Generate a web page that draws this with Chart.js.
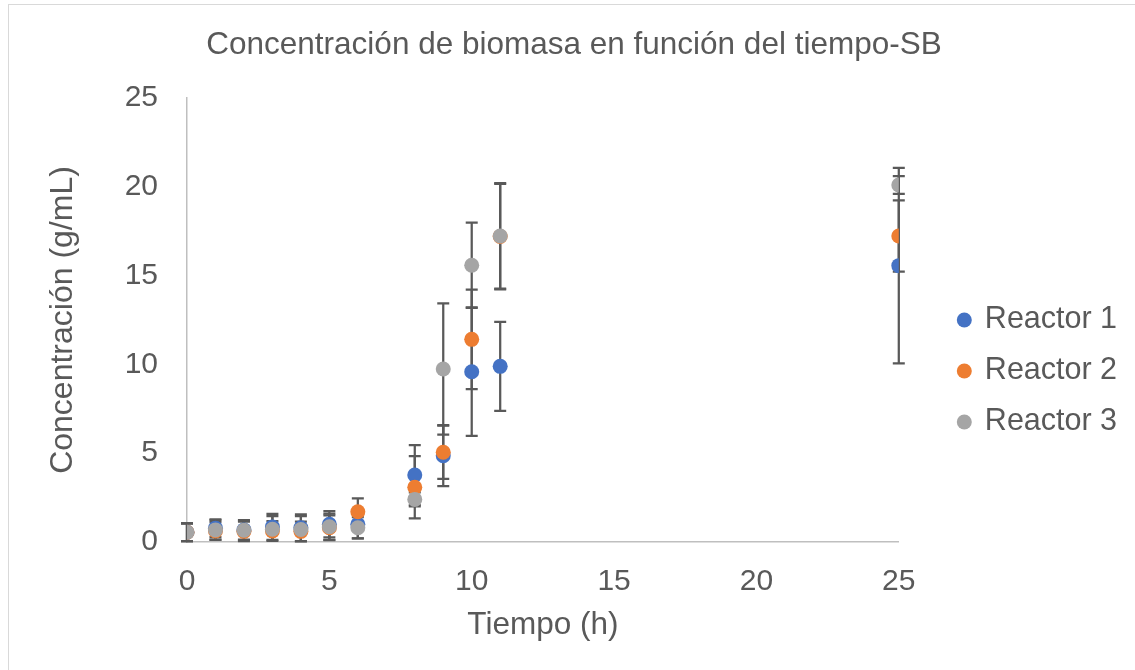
<!DOCTYPE html>
<html lang="es">
<head>
<meta charset="utf-8">
<title>Concentración de biomasa en función del tiempo-SB</title>
<script src="https://cdn.jsdelivr.net/npm/chart.js@4.4.1/dist/chart.umd.min.js"></script>
<style>
  html, body { margin: 0; padding: 0; background: #ffffff; overflow: hidden; }
  #frame { position: absolute; left: 8px; top: 4px; width: 1200px; height: 800px; border: 1px solid #D9D9D9; box-sizing: border-box; }
  #chart { position: absolute; left: 0; top: 0; }
</style>
</head>
<body>
<div id="frame"></div>
<canvas id="chart" width="1135" height="670"></canvas>
<script>
// Sampling times (h)
const tiempos = [0, 1, 2, 3, 4, 5, 6, 8, 9, 10, 11, 25];

// Biomass concentration (g/mL) and standard deviation per reactor
const reactor1 = [0.55, 0.78, 0.68, 0.85, 0.80, 1.00, 1.00, 3.77, 4.86, 9.59, 9.89, 15.56];
const errR1    = [0.50, 0.50, 0.55, 0.73, 0.76, 0.74, 0.80, 1.69, 1.72, 3.62, 2.51, 5.50];

const reactor2 = [0.55, 0.62, 0.60, 0.62, 0.60, 0.80, 1.70, 3.08, 5.05, 11.41, 17.20, 17.23];
const errR2    = [0.50, 0.50, 0.55, 0.55, 0.55, 0.70, 0.76, 1.75, 1.50, 2.80, 2.97, 2.00];

const reactor3 = [0.55, 0.68, 0.66, 0.72, 0.70, 0.86, 0.80, 2.40, 9.74, 15.58, 17.23, 20.10];
const errR3    = [0.50, 0.55, 0.55, 0.74, 0.75, 0.74, 0.60, 0.40, 3.70, 2.40, 2.97, 0.50];

// Axis ticks
const ticksX = [0, 5, 10, 15, 20, 25];
const ticksY = [0, 5, 10, 15, 20, 25];

const seriesNames = ['Reactor 1', 'Reactor 2', 'Reactor 3'];
const seriesColors = ['#4472C4', '#ED7D31', '#A5A5A5'];

const FONT = "'Liberation Sans', Arial, sans-serif";
const TEXT = '#595959';

function toPoints(xs, ys, errs) {
  return xs.map((x, i) => ({ x: x, y: ys[i], err: errs[i] }));
}

// Vertical error bars with caps, drawn beneath the markers
const errorBars = {
  id: 'errorBars',
  beforeDatasetsDraw(chart) {
    const ctx = chart.ctx;
    const xs = chart.scales.x, ys = chart.scales.y;
    const cap = 6;
    ctx.save();
    ctx.strokeStyle = '#595959';
    ctx.lineWidth = 2.25;
    chart.data.datasets.forEach((ds) => {
      ds.data.forEach((p) => {
        if (p.err == null) return;
        const px = xs.getPixelForValue(p.x);
        const top = ys.getPixelForValue(p.y + p.err);
        const bot = ys.getPixelForValue(Math.max(p.y - p.err, ys.min));
        ctx.beginPath();
        ctx.moveTo(px, top); ctx.lineTo(px, bot);
        ctx.moveTo(px - cap, top); ctx.lineTo(px + cap, top);
        if (p.y - p.err >= ys.min) { ctx.moveTo(px - cap, bot); ctx.lineTo(px + cap, bot); }
        ctx.stroke();
      });
    });
    ctx.restore();
  }
};

const datasets = [
  { label: seriesNames[0], data: toPoints(tiempos, reactor1, errR1), order: 3 },
  { label: seriesNames[1], data: toPoints(tiempos, reactor2, errR2), order: 2 },
  { label: seriesNames[2], data: toPoints(tiempos, reactor3, errR3), order: 1 }
].map((d, i) => Object.assign(d, {
  backgroundColor: seriesColors[i],
  borderColor: seriesColors[i],
  pointRadius: 7.5,
  pointHoverRadius: 7.5,
  pointBorderWidth: 0,
  showLine: false
}));

new Chart(document.getElementById('chart'), {
  type: 'scatter',
  data: { datasets: datasets },
  plugins: [errorBars],
  options: {
    responsive: false,
    animation: false,
    devicePixelRatio: 1,
    events: [],
    layout: { padding: { left: 27.25, right: 14.25, top: 0, bottom: 0 } },
    plugins: {
      tooltip: { enabled: false },
      title: {
        display: true,
        text: 'Concentración de biomasa en función del tiempo-SB',
        color: TEXT,
        font: { family: FONT, size: 31.5, weight: 'normal', lineHeight: 1.2 },
        padding: { top: 26.6, bottom: 33.6 }
      },
      legend: {
        display: true,
        position: 'right',
        align: 'center',
        title: { display: true, text: '', font: { size: 10, lineHeight: 1 }, padding: { top: 62, bottom: 0 } },
        labels: {
          color: TEXT,
          font: { family: FONT, size: 30.5 },
          usePointStyle: true,
          pointStyle: 'circle',
          boxWidth: 10.6,
          boxHeight: 10.6,
          padding: 20.5,
          sort: (a, b) => a.datasetIndex - b.datasetIndex
        }
      }
    },
    scales: {
      x: {
        type: 'linear',
        min: ticksX[0],
        max: ticksX[ticksX.length - 1],
        afterBuildTicks: (s) => { s.ticks = ticksX.map(v => ({ value: v })); },
        grid: { display: false, drawTicks: false },
        border: { display: true, color: '#BFBFBF', width: 1.5 },
        ticks: { color: TEXT, font: { family: FONT, size: 30 }, padding: 21.4, maxRotation: 0 },
        title: {
          display: true, text: 'Tiempo (h)', color: TEXT,
          font: { family: FONT, size: 31.5, lineHeight: 1.2 },
          padding: { top: 0, bottom: 25.4 }
        },
        afterFit: (s) => { s.height = 128; }
      },
      y: {
        type: 'linear',
        position: 'left',
        min: ticksY[0],
        max: ticksY[ticksY.length - 1],
        afterBuildTicks: (s) => { s.ticks = ticksY.map(v => ({ value: v })); },
        grid: { display: false, drawTicks: false },
        border: { display: true, color: '#BFBFBF', width: 1.5 },
        ticks: { color: TEXT, font: { family: FONT, size: 30 }, padding: 29 },
        title: {
          display: true, text: 'Concentración (g/mL)', color: TEXT,
          font: { family: FONT, size: 32, lineHeight: 1.2 },
          padding: { top: 16.55, bottom: 0 }
        },
        afterFit: (s) => { s.width = 159.75; }
      },
      gap: {
        type: 'linear',
        axis: 'y',
        position: 'right',
        display: true,
        grid: { display: false, drawTicks: false },
        border: { display: false },
        ticks: { display: false },
        afterFit: (s) => { s.width = 39.7; }
      }
    }
  }
});
</script>
</body>
</html>
